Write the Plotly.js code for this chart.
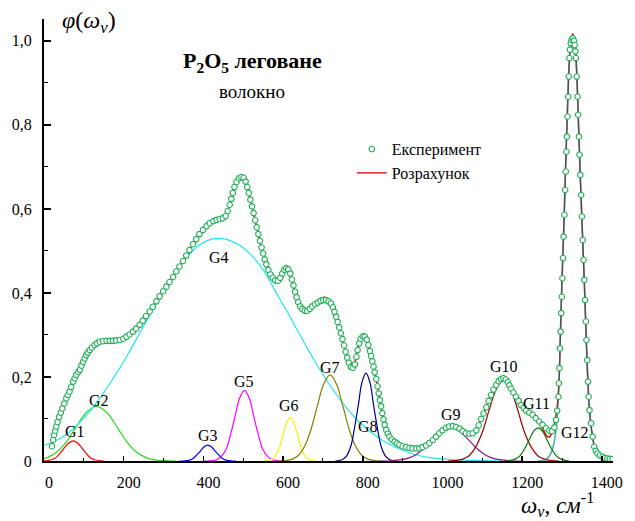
<!DOCTYPE html>
<html>
<head>
<meta charset="utf-8">
<script src="https://cdn.plot.ly/plotly-3.0.1.min.js"></script>
<style>html,body{margin:0;padding:0;background:#fff;}#chart{width:635px;height:521px;}</style>
</head>
<body>
<div id="chart"></div>
<script>
// Experimental points (omega, phi)
const expX = [20,23,25,28,31,34,38,42,46,51,56,60,64,68,73,77,81,86,90,94,98,102,106,110,115,120,127,133,140,148,157,165,173,181,190,199,207,215,223,231,240,
248,256,265,273,282,290,299,307,315,324,332,340,349,357,365,374,382,390,399,408,416,425,433,441,449,456,461,466,470,474,478,483,489,495,501,506,510,514,518,522,526,530,534,538,542,546,550,554,558,563,568,574,580,587,593,598,603,608,613,618,622,626,630,634,638,643,648,654,660,667,673,680,687,694,701,708,714,720,725,729,733,737,741,745,749,753,757,761,765,770,775,780,784,787,791,795,800,805,810,814,818,821,824,827,830,834,837,840,843,846,849,852,855,859,863,867,873,880,886,892,900,909,917,925,934,942,950,959,967,976,984,992,1000,1009,1017,1026,1034,1043,1051,1059,1068,1076,1085,1091,1097,1103,1110,1116,1122,1128,1135,1141,1147,1153,1159,1164,1168,1172,1178,1185,1191,1197,1204,1210,1218,1226,1234,1243,1251,1260,1268,1275,1281,1285,1288,
1291,1292,1293.5,1295,1296.5,1298,1299.5,1301,1302.5,1304,1306,1308,1309.5,1311,1312.5,1314,1315.5,1317,1318.5,1320,1322,1324,1327,1330,1332,1333.5,1335,1337,1339,1340.5,1342.5,1344,1346,1348,1350,1352,1354,1356,1358,1360,1361.5,1363.5,1365.5,1367,1369,1373,1377,1381,1385,1389,1395,1402,1408,1414,1420,1427];
const expY = [0.035,0.050,0.062,0.072,0.082,0.093,0.105,0.115,0.125,0.137,0.149,0.157,0.165,0.176,0.189,0.197,0.205,0.212,0.217,0.227,0.236,0.244,0.252,0.258,0.264,0.270,0.276,0.280,0.284,0.285,0.286,0.286,0.286,0.287,0.288,0.291,0.296,0.301,0.308,0.315,0.324,
0.334,0.345,0.356,0.367,0.380,0.392,0.404,0.415,0.426,0.438,0.451,0.463,0.476,0.489,0.502,0.516,0.528,0.540,0.550,0.559,0.566,0.571,0.574,0.576,0.578,0.583,0.595,0.610,0.624,0.638,0.652,0.664,0.673,0.676,0.674,0.665,0.652,0.638,0.622,0.606,0.590,0.573,0.556,0.540,0.524,0.508,0.494,0.480,0.468,0.455,0.444,0.436,0.430,0.429,0.436,0.446,0.455,0.459,0.456,0.446,0.432,0.418,0.403,0.390,0.378,0.368,0.362,0.358,0.357,0.362,0.368,0.373,0.377,0.381,0.383,0.383,0.380,0.375,0.366,0.355,0.343,0.331,0.318,0.304,0.290,0.275,0.260,0.246,0.234,0.224,0.222,0.230,0.248,0.264,0.280,0.291,0.297,0.296,0.289,0.276,0.262,0.250,0.237,0.225,0.211,0.195,0.178,0.161,0.145,0.130,0.114,0.099,0.086,0.074,0.065,0.058,0.051,0.046,0.042,0.038,0.035,0.033,0.031,0.030,0.030,0.030,0.033,0.037,0.043,0.050,0.058,0.066,0.073,0.079,0.082,0.083,0.081,0.077,0.071,0.066,0.065,0.066,0.073,0.085,0.100,0.113,0.128,0.143,0.157,0.170,0.181,0.190,0.195,0.197,0.194,0.188,0.180,0.172,0.163,0.153,0.143,0.133,0.126,0.120,0.115,0.110,0.102,0.094,0.086,0.078,0.072,0.071,0.080,0.098,0.120,
0.153,0.185,0.221,0.268,0.308,0.352,0.391,0.435,0.483,0.534,0.586,0.645,0.689,0.736,0.772,0.820,0.867,0.915,0.959,0.979,0.994,1.002,1.006,1.000,0.990,0.975,0.959,0.915,0.867,0.824,0.772,0.729,0.681,0.633,0.582,0.526,0.479,0.431,0.383,0.332,0.288,0.240,0.189,0.153,0.121,0.090,0.058,0.034,0.024,0.018,0.013,0.010,0.007,0.006,0.005,0.004];

// Calculated (fit) curve
const calcX = [18,25,35,46,56,68,81,94,106,120,133,148,165,181,199,215,231,248,265,282,299,315,332,349,365,382,399,416,433,449,461,470,478,489,495,501,510,518,526,534,542,550,558,568,580,587,598,608,618,626,634,643,654,665,680,694,704,714,725,733,745,757,765,770,775,780,787,795,800,805,814,824,834,843,852,859,867,880,892,909,925,942,959,976,992,1009,1026,1043,1059,1068,1076,1085,1097,1110,1122,1135,1147,1153,1164,1172,1185,1197,1210,1222,1231,1243,1255,1263,1268,1273,1280,1286,1290,1293,1296,1299,1302.5,1306,1309,1312.5,1316,1319,1322,1327,1332,1335,1338,1341.5,1345,1349,1353,1357,1360.5,1364.5,1368,1372,1377,1382,1390,1400,1414,1427];
const calcY = [0.038,0.060,0.095,0.124,0.148,0.175,0.203,0.226,0.250,0.270,0.280,0.285,0.286,0.287,0.291,0.301,0.315,0.334,0.356,0.380,0.404,0.426,0.451,0.476,0.502,0.528,0.550,0.564,0.572,0.577,0.594,0.624,0.652,0.673,0.676,0.674,0.652,0.622,0.590,0.556,0.524,0.494,0.466,0.442,0.428,0.427,0.446,0.460,0.445,0.416,0.387,0.364,0.354,0.356,0.373,0.386,0.390,0.384,0.367,0.343,0.303,0.259,0.232,0.222,0.221,0.232,0.268,0.295,0.300,0.298,0.277,0.237,0.194,0.144,0.098,0.073,0.057,0.045,0.037,0.032,0.030,0.031,0.038,0.051,0.067,0.079,0.083,0.077,0.066,0.064,0.066,0.074,0.100,0.128,0.157,0.182,0.196,0.197,0.187,0.171,0.150,0.132,0.118,0.113,0.107,0.090,0.070,0.058,0.057,0.064,0.085,0.115,0.150,0.200,0.300,0.400,0.500,0.600,0.700,0.800,0.900,0.960,0.995,1.017,0.995,0.960,0.900,0.800,0.700,0.600,0.500,0.400,0.300,0.200,0.135,0.092,0.056,0.033,0.016,0.009,0.005,0.004];

// Gaussian components
const g1x = [0,8,19,30,40,51,62,73,84,95,106,116,127,138,150];
const g1y = [0.000,0.001,0.003,0.008,0.018,0.031,0.043,0.048,0.043,0.031,0.018,0.008,0.003,0.001,0.000];
const g2x = [0,8,33,58,82,107,132,157,182,206,231,256,281,306,330];
const g2y = [0.006,0.008,0.022,0.048,0.083,0.116,0.130,0.116,0.083,0.048,0.022,0.008,0.002,0.001,0.000];
const g3x = [340,347,356,365,374,383,393,402,411,420,429,439,448,457,466,475,482];
const g3y = [0.000,0.000,0.001,0.002,0.006,0.014,0.024,0.034,0.038,0.034,0.024,0.014,0.006,0.002,0.001,0.000,0.000];
const g4x = [0,30,60,90,120,150,180,210,240,270,300,330,360,390,420,436,460,490,520,550,580,610,640,670,700,730,760,790,820,850,880,910,940,970,1000,1050,1100,1150];
const g4y = [0.037,0.048,0.066,0.092,0.124,0.163,0.206,0.253,0.304,0.355,0.405,0.450,0.487,0.514,0.528,0.530,0.527,0.514,0.490,0.455,0.405,0.356,0.304,0.253,0.206,0.163,0.126,0.094,0.069,0.049,0.034,0.022,0.013,0.008,0.005,0.002,0.001,0.000];
const g5x = [400,410,422,433,445,457,468,480,491,503,515,526,538,549,561,573,584,596,606];
const g5y = [0.000,0.000,0.001,0.003,0.011,0.028,0.062,0.108,0.150,0.168,0.150,0.108,0.062,0.028,0.011,0.003,0.001,0.000,0.000];
const g6x = [550,559,568,576,584,593,601,610,618,626,635,643,652,660,668,677,686];
const g6y = [0.000,0.000,0.002,0.007,0.018,0.038,0.067,0.093,0.104,0.093,0.067,0.038,0.018,0.007,0.002,0.000,0.000];
const g7x = [590,606,622,638,654,670,686,702,718,734,750,766,782,798,814,830,846];
const g7y = [0.000,0.001,0.004,0.013,0.035,0.075,0.131,0.183,0.205,0.183,0.131,0.075,0.035,0.013,0.004,0.001,0.000];
const g8x = [731,741,750,760,770,779,789,798,808,818,827,837,846,856,866,875,885];
const g8y = [0.000,0.001,0.004,0.013,0.035,0.077,0.134,0.187,0.209,0.187,0.134,0.077,0.035,0.013,0.004,0.001,0.000];
const g9x = [841,863,886,908,930,953,975,998,1020,1042,1065,1087,1110,1132,1154,1177,1199];
const g9y = [0.000,0.000,0.002,0.005,0.013,0.029,0.051,0.071,0.079,0.071,0.051,0.029,0.013,0.005,0.002,0.000,0.000];
const g10x = [1014,1031,1049,1066,1083,1101,1118,1136,1153,1170,1188,1205,1223,1240,1257,1275,1292];
const g10y = [0.000,0.001,0.004,0.012,0.033,0.071,0.124,0.173,0.193,0.173,0.124,0.071,0.033,0.012,0.004,0.001,0.000];
const g11x = [1162,1173,1184,1195,1206,1218,1229,1240,1251,1262,1274,1285,1296,1307,1318];
const g11y = [0.000,0.002,0.005,0.013,0.029,0.051,0.071,0.079,0.071,0.051,0.029,0.013,0.005,0.002,0.000];
const g12x = [1240,1255,1265,1272,1278,1283,1287,1290,1293,1296,1299,1302.5,1306,1309,1312.5,1316,1319,1322,1327,1332,1335,1338,1341.5,1345,1349,1353,1357,1360.5,1364.5,1368,1372,1377,1382,1390,1400,1412,1428];
const g12y = [0.000,0.002,0.008,0.018,0.035,0.060,0.095,0.135,0.200,0.300,0.400,0.500,0.600,0.700,0.800,0.900,0.960,0.995,1.012,0.995,0.960,0.900,0.800,0.700,0.600,0.500,0.400,0.300,0.200,0.135,0.090,0.055,0.032,0.014,0.005,0.002,0.000];

const gLabels = ["G1","G2","G3","G4","G5","G6","G7","G8","G9","G10","G11","G12"];
const gLabelX = [79,137,411,439,503,615,718,813,1022,1155,1237,1333];
const gLabelY = [0.070,0.145,0.060,0.484,0.189,0.133,0.222,0.082,0.111,0.225,0.137,0.067];
const gColors = ["#ff0000","#22dd22","#0000ff","#1ee6f0","#ff00ff","#f5f500","#808000","#000088","#8e168e","#990000","#008000","#008080"];

const yTickVals = [0,0.2,0.4,0.6,0.8,1.0];
const yTickText = ["0","0,2","0,4","0,6","0,8","1,0"];
const yMinorVals = [0.1,0.3,0.5,0.7,0.9];

const serif = "Liberation Serif, Times New Roman, serif";
const gx = [g1x,g2x,g3x,g4x,g5x,g6x,g7x,g8x,g9x,g10x,g11x];
const gy = [g1y,g2y,g3y,g4y,g5y,g6y,g7y,g8y,g9y,g10y,g11y];

const traces = [];
for (let i = 0; i < gx.length; i++) {
  traces.push({x: gx[i], y: gy[i], type: "scatter", mode: "lines",
    line: {color: gColors[i], width: 1.2, shape: "spline", smoothing: 1},
    showlegend: false, hoverinfo: "skip"});
}
traces.push({x: calcX, y: calcY, type: "scatter", mode: "lines", name: "Розрахунок",
  line: {color: "#d00000", width: 1.4, shape: "spline", smoothing: 0.8}, legendrank: 2});
traces.push({x: g12x, y: g12y, type: "scatter", mode: "lines", opacity: 0.65,
  line: {color: gColors[11], width: 1.6, shape: "spline", smoothing: 0.8},
  showlegend: false, hoverinfo: "skip"});
traces.push({x: expX, y: expY, type: "scatter", mode: "markers", name: "Експеримент",
  marker: {symbol: "circle", size: 5.5, color: "#ffffff", line: {width: 1.1, color: "#1fae55"}}, legendrank: 1});

const annotations = [];
for (let i = 0; i < gLabels.length; i++) {
  annotations.push({x: gLabelX[i], y: gLabelY[i], xref: "x", yref: "y", text: gLabels[i],
    xanchor: "center", yanchor: "middle",
    showarrow: false, font: {family: serif, size: 16, color: "#000"}});
}
function paperText(x, y, text, size) {
  return {xref: "paper", yref: "paper", x: x, y: y, text: text, xanchor: "center", yanchor: "middle",
    showarrow: false, font: {family: serif, size: size, color: "#000"}};
}
annotations.push(paperText(0.367, 0.903, "<b>P<sub>2</sub>O<sub>5</sub> леговане</b>", 22));
annotations.push(paperText(0.366, 0.835, "волокно", 19));
annotations.push(paperText(0.079, 0.993, "<i>φ</i>(<i>ω<sub>v</sub></i>)", 24));
annotations.push(paperText(0.902, -0.0995, "<i>ω<sub>v</sub></i>, <i>см</i><sup>-1</sup>", 23));

const layout = {
  width: 635, height: 521,
  margin: {l: 44, r: 22, t: 19, b: 60},
  paper_bgcolor: "#fff", plot_bgcolor: "#fff",
  showlegend: true,
  legend: {x: 0.541, y: 0.744, xanchor: "left", yanchor: "top", bgcolor: "rgba(0,0,0,0)",
    font: {family: serif, size: 16, color: "#000"}, tracegroupgap: 0, traceorder: "normal"},
  xaxis: {range: [0, 1428], showline: true, linewidth: 2, linecolor: "#000", mirror: false,
    ticks: "inside", ticklen: 5, tickwidth: 1.5, tickcolor: "#000", tick0: 0, dtick: 200,
    minor: {dtick: 100, tick0: 0, ticks: "inside", ticklen: 3, tickwidth: 1, tickcolor: "#000", showgrid: false},
    showgrid: false, zeroline: false, ticklabelshift: 5, ticklabelstandoff: 6,
    tickfont: {family: serif, size: 16, color: "#000"}},
  yaxis: {range: [0, 1.052], showline: true, linewidth: 2, linecolor: "#000", mirror: false,
    ticks: "inside", ticklen: 7, tickwidth: 1.5, tickcolor: "#000",
    tickmode: "array", tickvals: yTickVals, ticktext: yTickText,
    minor: {tickmode: "array", tickvals: yMinorVals, ticks: "inside", ticklen: 4, tickwidth: 1, tickcolor: "#000", showgrid: false},
    showgrid: false, zeroline: false, ticklabelstandoff: 7,
    tickfont: {family: serif, size: 16, color: "#000"}},
  annotations: annotations
};

Plotly.newPlot("chart", traces, layout, {displayModeBar: false, staticPlot: true});
</script>
</body>
</html>
